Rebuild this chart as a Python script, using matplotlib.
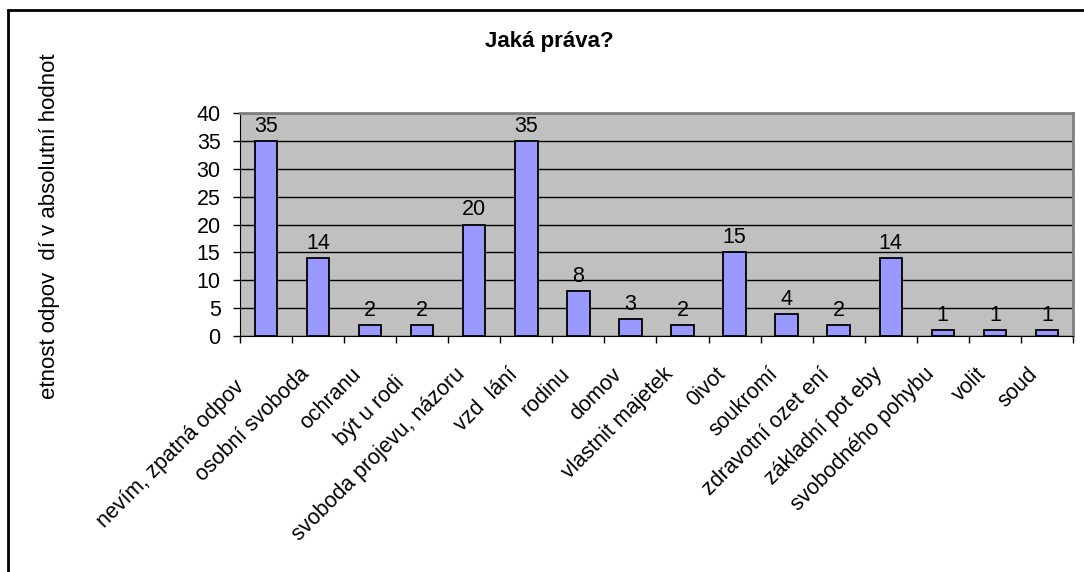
import numpy as np
import matplotlib.pyplot as plt
from matplotlib.patches import Rectangle

plt.rcParams['font.family'] = ['Liberation Sans', 'DejaVu Sans']

# Data
kategorie = ['nevím, zpatná odpov   ', 'osobní svoboda', 'ochranu', 'být u rodi  ',
             'svoboda projevu, názoru', 'vzd  lání', 'rodinu', 'domov',
             'vlastnit majetek', '0ivot', 'soukromí', 'zdravotní ozet ení',
             'základní pot eby', 'svobodného pohybu', 'volit', 'soud']
hodnoty = [35, 14, 2, 2, 20, 35, 8, 3, 2, 15, 4, 2, 14, 1, 1, 1]
y_ticks = [0, 5, 10, 15, 20, 25, 30, 35, 40]

fig = plt.figure(figsize=(10.84, 5.72), dpi=100)
ax = fig.add_axes([0.2214, 0.4126, 0.7684, 0.3898])
ax.set_facecolor('#C0C0C0')

x = np.arange(len(kategorie))
ax.bar(x, hodnoty, width=0.43, color='#9999FF', edgecolor='black', linewidth=1.3, zorder=3)
for xi, v in zip(x, hodnoty):
    ax.annotate(str(v), (xi, v), xytext=(0, 3), textcoords='offset points',
                ha='center', va='bottom', fontsize=15.5, zorder=4)

ax.set_xlim(-0.5, len(kategorie) - 0.5)
ax.set_ylim(0, 40)
ax.set_yticks(y_ticks)
ax.tick_params(axis='y', labelsize=15.5, length=5, direction='out', width=1, pad=9)
ax.yaxis.grid(True, color='black', linewidth=1, zorder=1)

# category labels, rotated like in Excel
ax.set_xticks(np.arange(-0.5, len(kategorie)))
ax.set_xticklabels([])
ax.tick_params(axis='x', length=5, width=1)
for xi, lab in zip(x, kategorie):
    ax.annotate(lab, (xi, 0), xycoords=('data', 'axes fraction'),
                xytext=(-14, -20), textcoords='offset points',
                rotation=45, rotation_mode='anchor', ha='right', va='top',
                fontsize=15.5, annotation_clip=False)

ax.spines['top'].set_color('#808080')
ax.spines['right'].set_color('#808080')
ax.spines['top'].set_linewidth(2)
ax.spines['right'].set_linewidth(2)

fig.text(0.5065, 0.928, 'Jaká práva?', ha='center', va='center', fontsize=16, fontweight='bold')
fig.text(0.046, 0.605, 'etnost odpov  dí v absolutní hodnot', rotation=90,
         ha='center', va='center', fontsize=16)

# outer frame of the chart object
fig.patches.append(Rectangle((8 / 1084, -0.1), 1.2, 1 - 10 / 572 + 0.1,
                             transform=fig.transFigure, fill=False,
                             edgecolor='black', linewidth=2))

fig.savefig('out.png', dpi=100)
